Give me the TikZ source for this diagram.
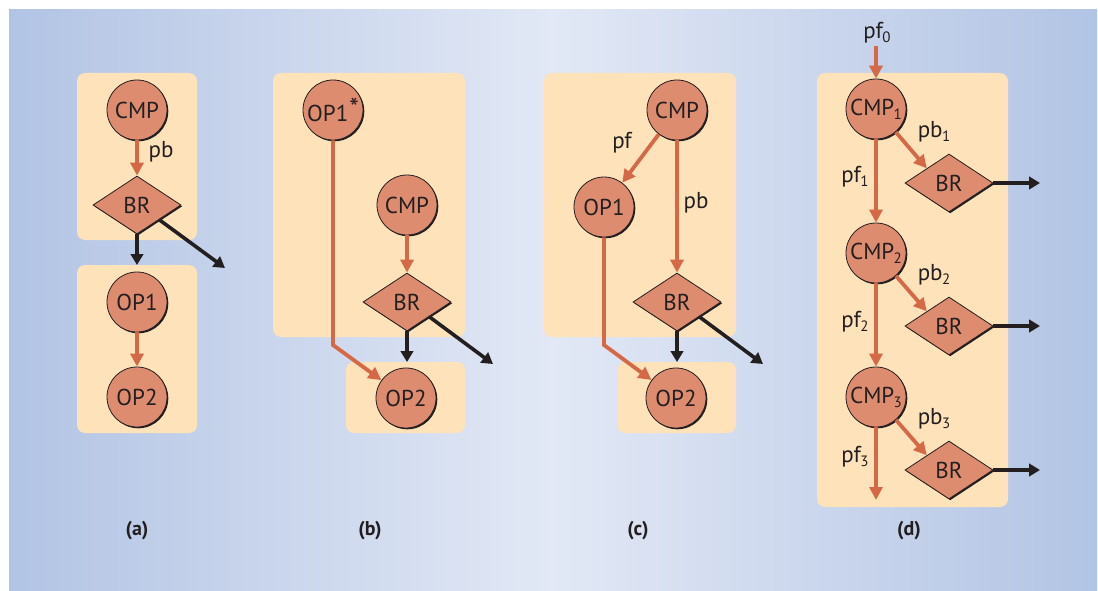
\documentclass[tikz,border=0pt]{standalone}
\usepackage{fontspec}
\setmainfont{PT Sans}
\usetikzlibrary{shapes.geometric,arrows.meta,shadows}
\definecolor{bgside}{RGB}{178,196,228}
\definecolor{bgmid}{RGB}{226,232,245}
\definecolor{panel}{RGB}{254,226,186}
\definecolor{nodefill}{RGB}{222,140,112}
\definecolor{flow}{RGB}{213,105,70}
\definecolor{ink}{RGB}{35,31,32}
\newcommand{\subidx}[1]{\kern-0.6pt\raisebox{-4pt}{\fontsize{15}{15}\selectfont #1}}
\begin{document}
\begin{tikzpicture}[x=1pt,y=-1pt,
  every node/.style={text=ink, font=\fontsize{23}{27}\selectfont},
  shadowed/.style={drop shadow={shadow xshift=1.3pt, shadow yshift=-1.3pt, opacity=1, fill=ink}},
  opnode/.style={circle, draw=ink, line width=0.8pt, fill=nodefill, minimum size=60pt, inner sep=0pt, shadowed},
  brnode/.style={diamond, draw=ink, line width=0.8pt, fill=nodefill, minimum width=88pt, minimum height=58pt, inner sep=0pt, shadowed},
  panelbox/.style={fill=panel, rounded corners=8pt},
  flowarrow/.style={draw=flow, line width=3.8pt, -{Triangle[length=13pt,width=13pt]}},
  ctrlarrow/.style={draw=ink, line width=3.6pt, -{Triangle[length=11pt,width=12.5pt]}},
  caption/.style={font=\fontsize{20}{24}\selectfont\bfseries}
]
\useasboundingbox (0,0) rectangle (1098,591);
\fill[white] (0,0) rectangle (1098,591);
\shade[left color=bgside, right color=bgside, middle color=bgmid] (9,10) rectangle (1097,590);

% panel boxes
\fill[panelbox] (77,73) rectangle (197,240);
\fill[panelbox] (77,265) rectangle (197,433);
\fill[panelbox] (273,73) rectangle (465,337);
\fill[panelbox] (346,362) rectangle (465,433);
\fill[panelbox] (544,73) rectangle (736,337);
\fill[panelbox] (617,362) rectangle (736,433);
\fill[panelbox] (817,73) rectangle (1008,507);

% ---------- (a)
\node[opnode] (cmpA) at (137,110) {CMP};
\node[brnode] (brA) at (137,205) {BR};
\node[opnode] (op1A) at (137,302) {OP1};
\node[opnode] (op2A) at (137,397) {OP2};
\node (pbA) at (161,152) {pb};
\coordinate (aout1) at (137,265);
\coordinate (aout2) at (225,268);
\draw[flowarrow] (cmpA) -- (brA);
\draw[ctrlarrow] (brA.south) -- (aout1);
\draw[ctrlarrow] (brA.south east) -- (aout2);
\draw[flowarrow] (op1A) -- (op2A);
\node[caption] (capA) at (137,531) {(a)};

% ---------- (b)
\node[opnode] (op1B) at (333,110) {OP1\kern1pt\raisebox{4pt}{\fontsize{27}{27}\selectfont *}};
\node[opnode] (cmpB) at (407,205) {CMP};
\node[brnode] (brB) at (407,302) {BR};
\node[opnode] (op2B) at (406,398) {OP2};
\coordinate (bbend) at (333,345);
\coordinate (bout1) at (407,362);
\coordinate (bout2) at (493,364);
\draw[flowarrow] (op1B.south) -- (bbend) -- (op2B);
\draw[flowarrow] (cmpB) -- (brB);
\draw[ctrlarrow] (brB.south) -- (bout1);
\draw[ctrlarrow] (brB.south east) -- (bout2);
\node[caption] (capB) at (370,531) {(b)};

% ---------- (c)
\node[opnode] (cmpC) at (677,110) {CMP};
\node[opnode] (op1C) at (604,207) {OP1};
\node[brnode] (brC) at (677,302) {BR};
\node[opnode] (op2C) at (676,398) {OP2};
\node (pfC) at (622,143) {pf};
\node (pbC) at (696,203) {pb};
\coordinate (cbend) at (604,345);
\coordinate (cout1) at (677,362);
\coordinate (cout2) at (763,364);
\draw[flowarrow] (cmpC) -- (op1C);
\draw[flowarrow] (cmpC) -- (brC);
\draw[flowarrow] (op1C.south) -- (cbend) -- (op2C);
\draw[ctrlarrow] (brC.south) -- (cout1);
\draw[ctrlarrow] (brC.south east) -- (cout2);
\node[caption] (capC) at (638,531) {(c)};

% ---------- (d)
\node[opnode] (cmpD1) at (876,109) {CMP\subidx{1}};
\node[brnode] (brD1) at (949,183) {BR};
\node[opnode] (cmpD2) at (876,253) {CMP\subidx{2}};
\node[brnode] (brD2) at (949,326) {BR};
\node[opnode] (cmpD3) at (876,397) {CMP\subidx{3}};
\node[brnode] (brD3) at (949,470) {BR};
\node (pf0) at (877,33) {pf\subidx{0}};
\node (pb1) at (934,132) {pb\subidx{1}};
\node (pf1) at (855,177) {pf\subidx{1}};
\node (pb2) at (934,275) {pb\subidx{2}};
\node (pf2) at (855,322) {pf\subidx{2}};
\node (pb3) at (934,419) {pb\subidx{3}};
\node (pf3) at (855,457) {pf\subidx{3}};
\coordinate (din) at (876,46);
\coordinate (dout) at (876,500);
\coordinate (dbr1) at (1040,183);
\coordinate (dbr2) at (1040,326);
\coordinate (dbr3) at (1040,470);
\draw[flowarrow] (din) -- (cmpD1);
\draw[flowarrow] (cmpD1) -- (cmpD2);
\draw[flowarrow] (cmpD2) -- (cmpD3);
\draw[flowarrow] (cmpD3) -- (dout);
\draw[flowarrow] (cmpD1) -- (brD1.north west);
\draw[flowarrow] (cmpD2) -- (brD2.north west);
\draw[flowarrow] (cmpD3) -- (brD3.north west);
\draw[ctrlarrow] (brD1.east) -- (dbr1);
\draw[ctrlarrow] (brD2.east) -- (dbr2);
\draw[ctrlarrow] (brD3.east) -- (dbr3);
\node[caption] (capD) at (909,531) {(d)};
\end{tikzpicture}
\end{document}
